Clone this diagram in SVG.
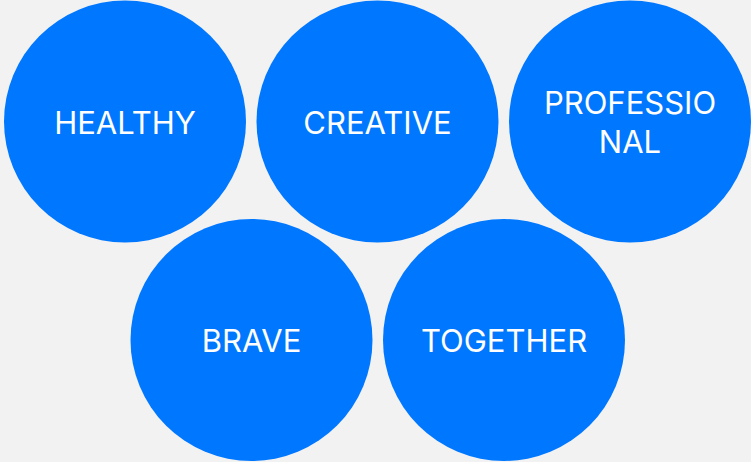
<svg xmlns="http://www.w3.org/2000/svg" width="751" height="462" viewBox="0 0 751 462">
<style>
.c{fill:#0077FF}
.t{fill:#FFFFFF;font-family:Inter,"Noto Sans",sans-serif;font-size:31px;text-anchor:middle}
</style>
<rect width="751" height="462" fill="#F2F2F2"/>
<g id="connectors"/>
<g id="healthy"><circle class="c" cx="125" cy="121.5" r="121"/><text class="t" x="125" y="134">HEALTHY</text></g>
<g id="creative"><circle class="c" cx="377.5" cy="121.5" r="121"/><text class="t" x="377.5" y="134">CREATIVE</text></g>
<g id="professional"><circle class="c" cx="630" cy="121.5" r="121"/><text class="t" x="630" y="114">PROFESSIO</text><text class="t" x="630" y="153">NAL</text></g>
<g id="brave"><circle class="c" cx="251.5" cy="340" r="121"/><text class="t" x="251.5" y="352">BRAVE</text></g>
<g id="together"><circle class="c" cx="504" cy="340" r="121"/><text class="t" x="504" y="352">TOGETHER</text></g>
</svg>
